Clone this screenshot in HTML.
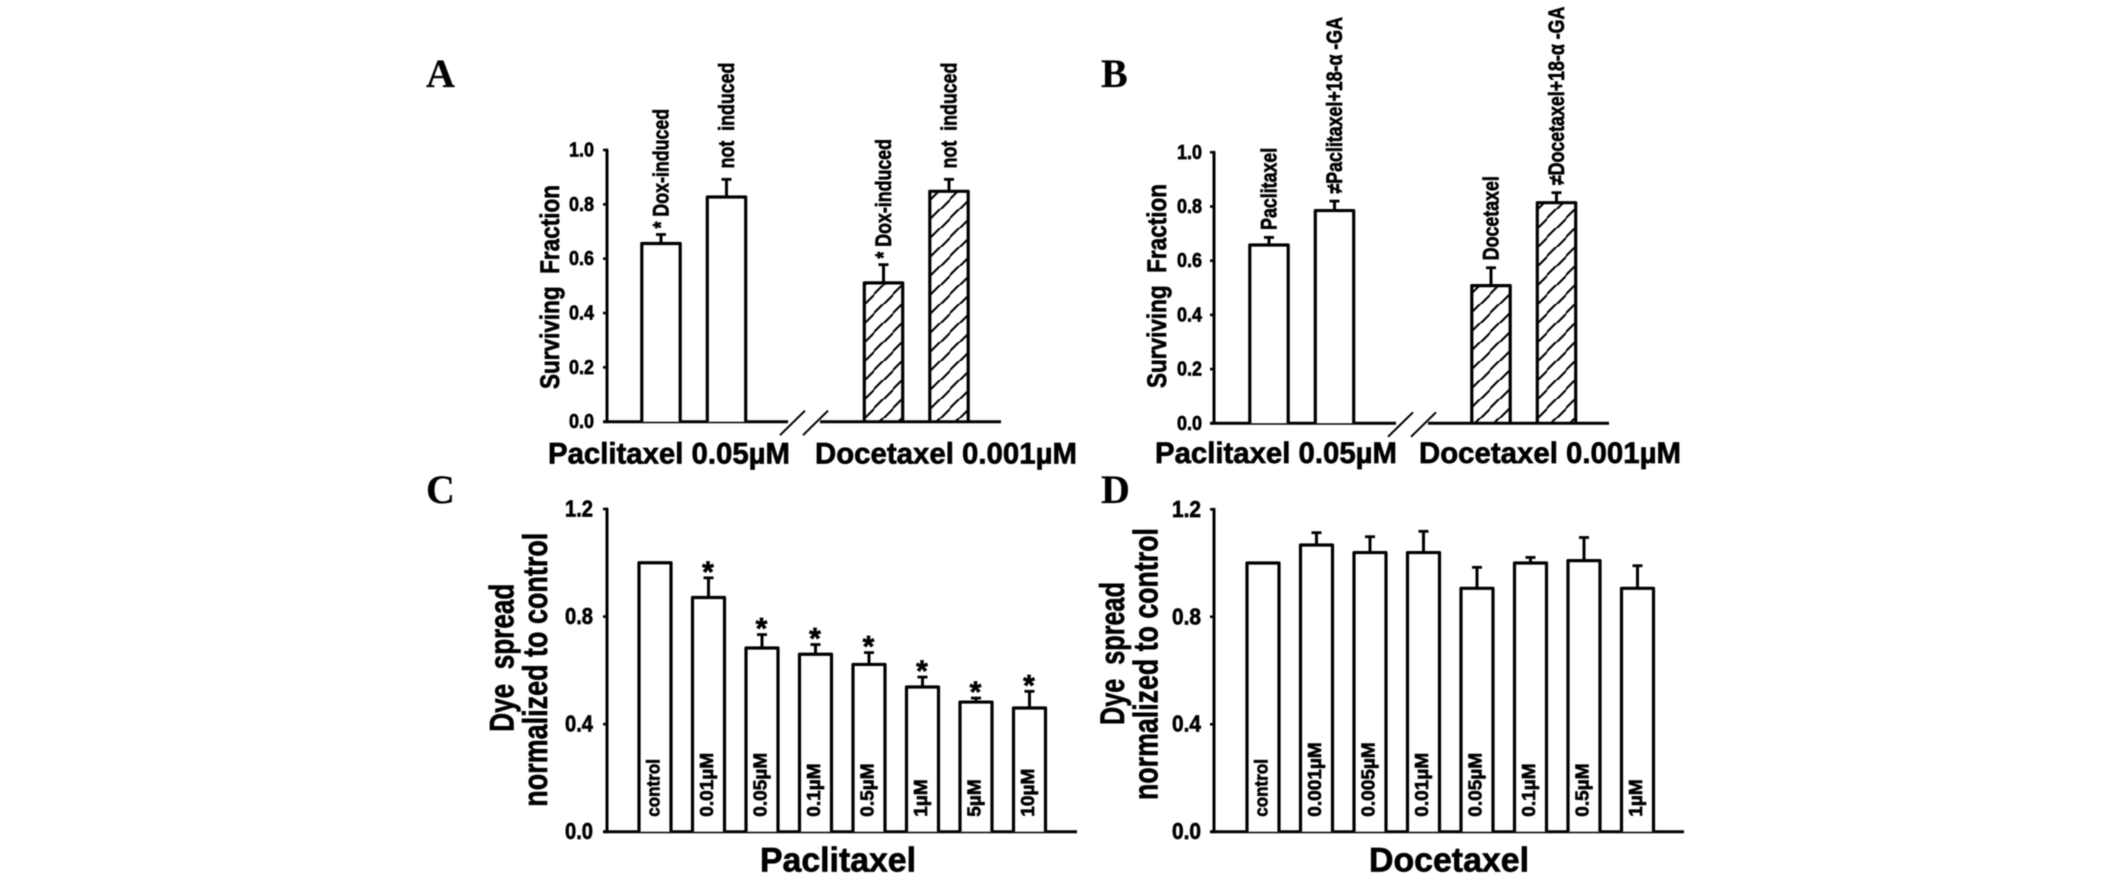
<!DOCTYPE html>
<html lang="en">
<head>
<meta charset="utf-8">
<title>Surviving fraction and dye spread charts</title>
<style>
  html, body { margin: 0; padding: 0; background: #fff; }
  body { width: 2126px; height: 874px; overflow: hidden; }
  svg { display: block; filter: blur(0.45px); }
  text { font-family: "Liberation Sans", sans-serif; font-weight: bold; fill: #000; stroke: #000; stroke-width: 0.65px; }
  text.letter { font-family: "Liberation Serif", serif; stroke-width: 0.2px; }
</style>
</head>
<body>
<svg id="figure" xmlns="http://www.w3.org/2000/svg" width="2126" height="874" viewBox="0 0 2126 874">
  <defs>
    <pattern id="hatch-a" patternUnits="userSpaceOnUse" width="19" height="19">
      <path d="M-1,10 L10,-1 M9,20 L20,9" stroke="#000" stroke-width="2.1" fill="none"></path>
    </pattern>
    <pattern id="hatch-b" patternUnits="userSpaceOnUse" width="19" height="19" patternTransform="translate(8 0)">
      <path d="M-1,10 L10,-1 M9,20 L20,9" stroke="#000" stroke-width="2.1" fill="none"></path>
    </pattern>
  </defs>
</svg>
<script>
// ---------- chart data ----------
const survivalTicks = [0, 0.2, 0.4, 0.6, 0.8, 1.0];
const dyeTicks = [0, 0.4, 0.8, 1.2];

const panelALabels = ["* Dox-induced", "\u00a0not\u00a0\u00a0induced", "* Dox-induced", "\u00a0not\u00a0\u00a0induced"];
const panelAValues = [0.656, 0.827, 0.511, 0.848];
const panelAErrors = [0.033, 0.065, 0.067, 0.044];
const panelAHatched = [false, false, true, true];

const panelBLabels = ["Paclitaxel", "\u2260Paclitaxel+18-\u03b1 -GA", "Docetaxel", "\u2260Docetaxel+18-\u03b1 -GA"];
const panelBValues = [0.658, 0.785, 0.508, 0.814];
const panelBErrors = [0.028, 0.035, 0.066, 0.037];
const panelBHatched = [false, false, true, true];

const panelCLabels = ["control", "0.01\u00b5M", "0.05\u00b5M", "0.1\u00b5M", "0.5\u00b5M", "1\u00b5M", "5\u00b5M", "10\u00b5M"];
const panelCValues = [1.0, 0.871, 0.683, 0.660, 0.622, 0.538, 0.482, 0.460];
const panelCErrors = [0, 0.073, 0.050, 0.036, 0.044, 0.037, 0.015, 0.062];
const panelCStars = [false, true, true, true, true, true, true, true];

const panelDLabels = ["control", "0.001\u00b5M", "0.005\u00b5M", "0.01\u00b5M", "0.05\u00b5M", "0.1\u00b5M", "0.5\u00b5M", "1\u00b5M"];
const panelDValues = [1.0, 1.067, 1.039, 1.039, 0.906, 1.0, 1.009, 0.906];
const panelDErrors = [0, 0.046, 0.059, 0.079, 0.078, 0.021, 0.086, 0.084];

// ---------- drawing helpers ----------
const NS = "http://www.w3.org/2000/svg";
const figure = document.getElementById("figure");

function addShape(parent, tag, attrs) {
  const el = document.createElementNS(NS, tag);
  for (const key in attrs) el.setAttribute(key, attrs[key]);
  parent.appendChild(el);
  return el;
}

function addText(parent, str, x, y, size, anchor, length) {
  const el = document.createElementNS(NS, "text");
  el.setAttribute("x", x);
  el.setAttribute("y", y);
  el.setAttribute("font-size", size);
  el.setAttribute("text-anchor", anchor || "start");
  if (length) {
    el.setAttribute("textLength", length);
    el.setAttribute("lengthAdjust", "spacingAndGlyphs");
  }
  el.textContent = str;
  parent.appendChild(el);
  return el;
}

// Vertical text running upward from (x, y); scaleX condenses along the reading direction.
function addRotated(parent, str, x, y, size, scaleX, length) {
  const el = document.createElementNS(NS, "text");
  el.setAttribute("transform", "translate(" + x + " " + y + ") rotate(-90) scale(" + scaleX + " 1)");
  el.setAttribute("font-size", size);
  if (length) {
    el.setAttribute("textLength", length);
    el.setAttribute("lengthAdjust", "spacingAndGlyphs");
  }
  el.textContent = str;
  parent.appendChild(el);
  return el;
}

function addPanel(name) {
  const g = document.createElementNS(NS, "g");
  
  
  figure.appendChild(g);
  return g;
}

function drawAxes(g, frame, ticks, tickFormat) {
  const yOf = v => frame.y0 - (v / frame.yMax) * (frame.y0 - frame.yTop);

  const yAxis = addShape(g, "line", { x1: frame.axisX, x2: frame.axisX, y1: frame.yTop, y2: frame.y0, stroke: "#000", "stroke-width": 3, "stroke-linecap": "round" });
  
  

  ticks.forEach(function (tick) {
    const tickMark = addShape(g, "line", { x1: frame.axisX - 4, x2: frame.axisX, y1: yOf(tick), y2: yOf(tick), stroke: "#000", "stroke-width": 2.6 });
    
    

    const tickLabel = addText(g, tickFormat(tick), frame.tickRight, yOf(tick) + frame.tickDrop, frame.tickSize, "end", frame.tickWidth);
    
    
  });

  if (frame.breakAt) {
    const left = addShape(g, "line", { x1: frame.xStart, x2: frame.breakAt[0], y1: frame.y0, y2: frame.y0, stroke: "#000", "stroke-width": 3 });
    
    

    const right = addShape(g, "line", { x1: frame.breakAt[1], x2: frame.xEnd, y1: frame.y0, y2: frame.y0, stroke: "#000", "stroke-width": 3 });
    
    

    [frame.breakAt[0] - 8, frame.breakAt[0] + 15].forEach(function (sx) {
      const slash = addShape(g, "line", { x1: sx, y1: frame.y0 + 13.5, x2: sx + 25, y2: frame.y0 - 11, stroke: "#000", "stroke-width": 2 });
      
      
    });
  } else {
    const axis = addShape(g, "line", { x1: frame.xStart, x2: frame.xEnd, y1: frame.y0, y2: frame.y0, stroke: "#000", "stroke-width": 3 });
    
    
  }
  return yOf;
}

function drawBar(g, cx, halfWidth, value, error, yOf, y0, fill) {
  const top = yOf(value);
  const d = "M" + (cx - halfWidth) + "," + y0 + " V" + top + " H" + (cx + halfWidth) + " V" + y0;

  const bar = addShape(g, "path", { d: d, fill: fill, stroke: "#000", "stroke-width": 3.2, "stroke-linejoin": "round" });
  
  

  if (error > 0) {
    const errTop = yOf(value + error);
    const stem = addShape(g, "line", { x1: cx, x2: cx, y1: top, y2: errTop, stroke: "#000", "stroke-width": 3 });
    
    

    const cap = addShape(g, "line", { x1: cx - 5, x2: cx + 5, y1: errTop, y2: errTop, stroke: "#000", "stroke-width": 2.8 });
    
    
  }
}

// Panels A and B: two bars either side of an axis break, labels above the bars.
function drawSurvivalPanel(name, frame, labels, values, errors, hatched) {
  const g = addPanel(name);
  const yOf = drawAxes(g, frame, survivalTicks, t => t.toFixed(1));
  const xOf = i => frame.x0 + i * frame.pitch + (i >= 2 ? frame.groupGap : 0);

  values.forEach(function (value, i) {
    drawBar(g, xOf(i), 19.2, value, errors[i], yOf, frame.y0, hatched[i] ? frame.hatch : "#fff");
    const label = addRotated(g, labels[i], xOf(i) + 7.5, yOf(value + errors[i]) - frame.labelGap, 22, 0.81);
    
    
  });
}

// Panels C and D: eight dose bars with labels inside the bars.
function drawDosePanel(name, frame, labels, values, errors, stars) {
  const g = addPanel(name);
  const yOf = drawAxes(g, frame, dyeTicks, t => t.toFixed(1));
  const xOf = i => frame.x0 + i * frame.pitch;

  values.forEach(function (value, i) {
    drawBar(g, xOf(i), 16, value, errors[i], yOf, frame.y0, "#fff");

    const label = addRotated(g, labels[i], xOf(i) + 4.5, frame.y0 - 15, 18.5, labels[i] === "control" ? 0.92 : 1.03);
    
    

    if (stars && stars[i]) {
      const star = addText(g, "*", xOf(i) - 0.5, yOf(value + errors[i]) - 13 + 17, 30, "middle");
      
      
    }
  });
}

// ---------- panels ----------
drawSurvivalPanel("panel-a", {
  axisX: 607, yTop: 150, y0: 421.7, yMax: 1, xStart: 603, xEnd: 1001, breakAt: [788, 820],
  tickRight: 594, tickDrop: 6.5, tickSize: 20, tickWidth: 25,
  x0: 661, pitch: 65.5, groupGap: 91.5, labelGap: 6, hatch: "url(#hatch-a)"
}, panelALabels, panelAValues, panelAErrors, panelAHatched);

drawSurvivalPanel("panel-b", {
  axisX: 1214, yTop: 152.3, y0: 423.3, yMax: 1, xStart: 1210, xEnd: 1609, breakAt: [1396, 1428],
  tickRight: 1202, tickDrop: 6.5, tickSize: 20, tickWidth: 25,
  x0: 1269, pitch: 65.5, groupGap: 91, labelGap: 7.5, hatch: "url(#hatch-b)"
}, panelBLabels, panelBValues, panelBErrors, panelBHatched);

drawDosePanel("panel-c", {
  axisX: 607, yTop: 509, y0: 831.7, yMax: 1.2, xStart: 603, xEnd: 1077,
  tickRight: 593, tickDrop: 7.5, tickSize: 23, tickWidth: 28,
  x0: 655, pitch: 53.5
}, panelCLabels, panelCValues, panelCErrors, panelCStars);

drawDosePanel("panel-d", {
  axisX: 1214, yTop: 509.3, y0: 831.7, yMax: 1.2, xStart: 1210, xEnd: 1684,
  tickRight: 1201, tickDrop: 7.5, tickSize: 23, tickWidth: 29,
  x0: 1263, pitch: 53.5
}, panelDLabels, panelDValues, panelDErrors, null);

// ---------- panel letters ----------
const letterA = addText(figure, "A", 426, 87, 40);
letterA.setAttribute("class", "letter");



const letterB = addText(figure, "B", 1101, 87, 40);
letterB.setAttribute("class", "letter");



const letterC = addText(figure, "C", 426, 503, 40);
letterC.setAttribute("class", "letter");



const letterD = addText(figure, "D", 1101, 503, 40);
letterD.setAttribute("class", "letter");



// ---------- axis titles ----------
const titleYA = addRotated(figure, "Surviving\u00a0\u00a0Fraction", 559, 389, 27, 1, 204);



const titleYB = addRotated(figure, "Surviving\u00a0\u00a0Fraction", 1166, 388, 27, 1, 204);



const titleYC1 = addRotated(figure, "Dye\u00a0\u00a0spread", 513.5, 731.7, 34, 1, 148);



const titleYC2 = addRotated(figure, "normalized to control", 547, 806.7, 34, 1, 274);



const titleYD1 = addRotated(figure, "Dye\u00a0\u00a0spread", 1124, 725, 34, 1, 143);



const titleYD2 = addRotated(figure, "normalized to control", 1157.5, 800, 34, 1, 272);



const groupA1 = addText(figure, "Paclitaxel 0.05\u00b5M", 548, 463.5, 30, "start", 242);



const groupA2 = addText(figure, "Docetaxel 0.001\u00b5M", 815, 463.5, 30, "start", 262);



const groupB1 = addText(figure, "Paclitaxel 0.05\u00b5M", 1155, 463, 30, "start", 242);



const groupB2 = addText(figure, "Docetaxel 0.001\u00b5M", 1419, 463, 30, "start", 262);



const titleXC = addText(figure, "Paclitaxel", 760, 871.7, 34, "start", 156);



const titleXD = addText(figure, "Docetaxel", 1369, 871.7, 34, "start", 160);


</script>
</body>
</html>
